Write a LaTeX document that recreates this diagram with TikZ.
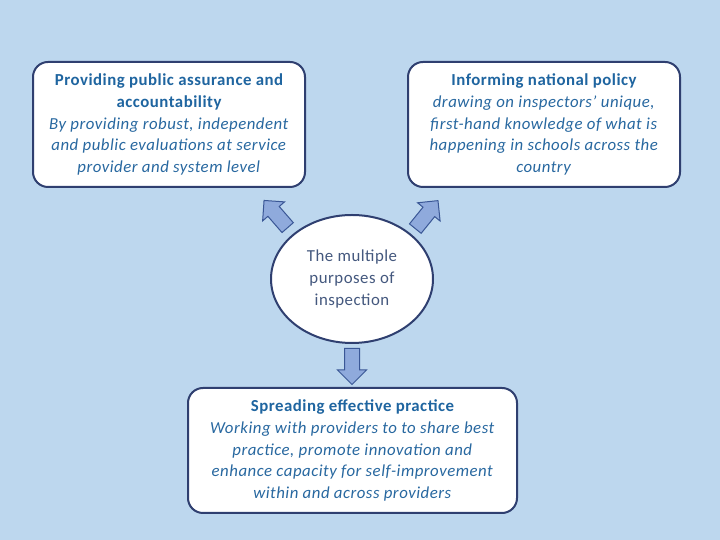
\documentclass[tikz,border=0pt]{standalone}
\usepackage{fontspec}
\setmainfont{Carlito}[LetterSpace=3]
\usepackage{xcolor}
\usetikzlibrary{shapes.geometric,shapes.arrows}

\definecolor{bgblue}{HTML}{BDD7EE}
\definecolor{framenavy}{HTML}{2F3F70}
\definecolor{headblue}{HTML}{1F65A0}
\definecolor{bodyblue}{HTML}{2868A0}
\definecolor{centregrey}{HTML}{44587E}
\definecolor{arrowfill}{HTML}{8FAADC}
\definecolor{arrowline}{HTML}{3A5796}

\newcommand{\purposetext}{\fontsize{16.8}{21.6}\selectfont}

\begin{document}
\begin{tikzpicture}[x=1pt,y=1pt,
    purpose/.style={shape=rectangle, rounded corners=15pt, draw=framenavy, line width=2pt,
      fill=white, inner sep=0pt, align=center, font=\purposetext, text=bodyblue},
    hub/.style={shape=ellipse, draw=framenavy, line width=2pt, fill=white, inner sep=0pt,
      minimum width=162pt, minimum height=128pt, align=center, font=\purposetext, text=centregrey},
    blockarrow/.style={shape=single arrow, draw=arrowline, fill=arrowfill, line width=1pt,
      inner sep=0pt, inner ysep=7pt, minimum height=36pt, single arrow head extend=7pt,
      anchor=tail}]
    \fill[bgblue] (0,0) rectangle (720,540);
    \useasboundingbox (0,0) rectangle (720,540);

    \node[purpose, minimum width=272pt, minimum height=125pt] (assurance) at (169,415.5)
      {\textbf{\color{headblue}Providing public assurance and}\\
       \textbf{\color{headblue}accountability}\\
       \textit{By providing robust, independent}\\
       \textit{and public evaluations at service}\\
       \textit{provider and system level}};
    \node[purpose, minimum width=272pt, minimum height=125pt] (policy) at (544,415.5)
      {\textbf{\color{headblue}Informing national policy}\\
       \textit{drawing on inspectors’ unique,}\\
       \textit{first-hand knowledge of what is}\\
       \textit{happening in schools across the}\\
       \textit{country}};
    \node[purpose, minimum width=329pt, minimum height=125pt] (practice) at (352.5,89.5)
      {\textbf{\color{headblue}Spreading effective practice}\\
       \textit{Working with providers to to share best}\\
       \textit{practice, promote innovation and}\\
       \textit{enhance capacity for self-improvement}\\
       \textit{within and across providers}};

    \node[hub] (purposes) at (352,261) {The multiple\\purposes of\\inspection};

    \node[blockarrow, rotate=131] (toassurance) at (288,312) {};
    \node[blockarrow, rotate=51] (topolicy) at (415,311) {};
    \node[blockarrow, rotate=-90] (topractice) at (352,192) {};
  \end{tikzpicture}
\end{document}
